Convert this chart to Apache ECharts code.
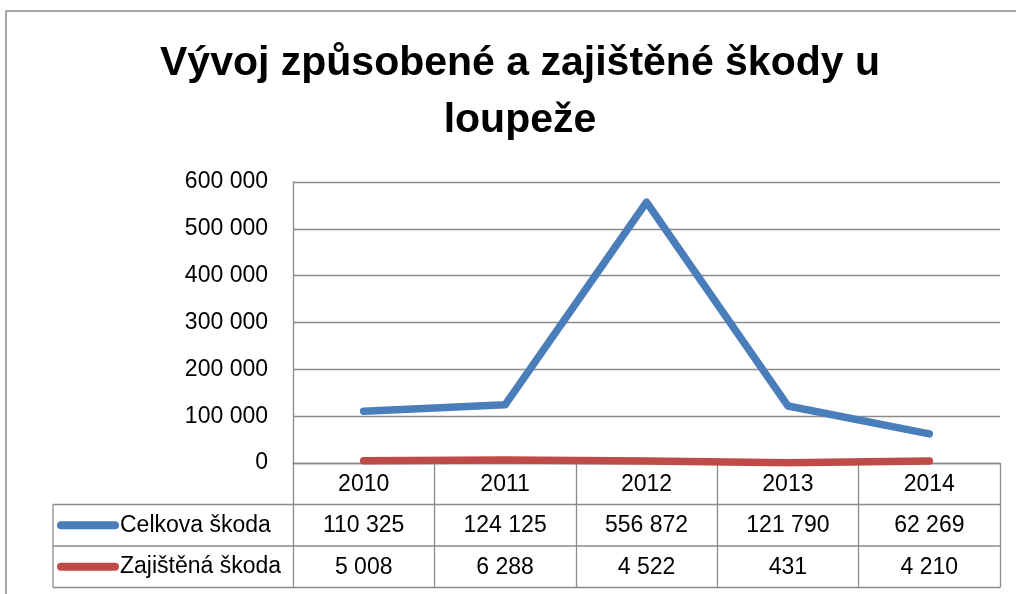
<!DOCTYPE html>
<html>
<head>
<meta charset="utf-8">
<script src="https://cdn.jsdelivr.net/npm/echarts@6/dist/echarts.min.js"></script>
<style>html,body{margin:0;padding:0;background:#fff;}#c{width:1016px;height:594px;}</style>
</head>
<body>
<div id="c"></div>
<script>
const titleText = 'Vývoj způsobené a zajištěné škody u\nloupeže';
const years = ['2010', '2011', '2012', '2013', '2014'];
const seriesNames = ['Celkova škoda', 'Zajištěná škoda'];
const celkova = [110325, 124125, 556872, 121790, 62269];
const zajistena = [5008, 6288, 4522, 431, 4210];
const yMin = 0, yMax = 600000, yStep = 100000;

const FONT = 'Liberation Sans';
const GRID = '#8a8a8a';
const L = { left: 293, right: 1000, top: 182, axisY: 463, row: 41.5, tableLeft: 53, W: 1016, H: 594 };
const fmt = v => String(v).replace(/\B(?=(\d{3})+(?!\d))/g, ' ');

const r1 = L.axisY + L.row, r2 = L.axisY + 2 * L.row, r3 = L.axisY + 3 * L.row;
const hline = (y) => ({ type: 'line', shape: { x1: L.tableLeft, y1: y, x2: L.right, y2: y }, style: { stroke: GRID, lineWidth: 1.3 }, silent: true });

const chart = echarts.init(document.getElementById('c'), null, { renderer: 'canvas' });
const rowAxis = (data, off) => ({
  type: 'category', data: data, position: 'bottom', offset: off, gridIndex: 0,
  axisLine: { show: false }, axisTick: { show: false }, splitLine: { show: false },
  axisLabel: { interval: 0, margin: 10, fontSize: 23, color: '#000', fontFamily: FONT }
});
const legTextBox = 23 + 5;
chart.setOption({
  animation: false,
  backgroundColor: '#fff',
  title: {
    text: titleText, left: 520, top: 35, textAlign: 'center', padding: 0,
    textStyle: { fontFamily: FONT, fontWeight: 'bold', fontSize: 41, lineHeight: 57, color: '#000' }
  },
  grid: { left: L.left, right: L.W - L.right, top: L.top, bottom: L.H - L.axisY, containLabel: false },
  legend: {
    orient: 'vertical', left: 57, top: r1 + L.row / 2 - legTextBox / 2, padding: 0,
    itemWidth: 62, itemHeight: 8, itemGap: L.row - legTextBox,
    icon: 'path://M4,0H58A4,4,0,0,1,58,8H4A4,4,0,0,1,4,0Z',
    textStyle: { fontFamily: FONT, fontSize: 23, lineHeight: 23, color: '#000', padding: [5, 0, 0, -4] },
    data: seriesNames, selectedMode: false
  },
  xAxis: [
    {
      type: 'category', data: years, boundaryGap: true, position: 'bottom',
      axisLine: { show: true, lineStyle: { color: GRID, width: 1.3 } },
      axisTick: { show: true, length: 3 * L.row, lineStyle: { color: GRID, width: 1.3 } },
      axisLabel: { interval: 0, margin: 10, fontSize: 23, color: '#000', fontFamily: FONT }
    },
    rowAxis(celkova.map(fmt), L.row),
    rowAxis(zajistena.map(fmt), 2 * L.row)
  ],
  yAxis: {
    type: 'value', min: yMin, max: yMax, interval: yStep,
    axisLine: { show: true, lineStyle: { color: GRID, width: 1.3 } },
    axisTick: { show: false },
    splitLine: { show: true, lineStyle: { color: GRID, width: 1.3 } },
    axisLabel: { margin: 25, fontSize: 23, color: '#000', fontFamily: FONT, formatter: v => fmt(v) }
  },
  series: [
    { name: seriesNames[0], type: 'line', data: celkova, symbol: 'none', color: '#4A7EBB',
      lineStyle: { width: 7.5, cap: 'round', join: 'round', color: '#4A7EBB' } },
    { name: seriesNames[1], type: 'line', data: zajistena, symbol: 'none', color: '#BE4B48',
      lineStyle: { width: 7.5, cap: 'round', join: 'round', color: '#BE4B48' } }
  ],
  graphic: [
    { type: 'rect', shape: { x: 6, y: 11, width: 1030, height: 620 }, style: { fill: 'none', stroke: GRID, lineWidth: 1.5 }, silent: true },
    hline(r1), hline(r2), hline(r3),
    { type: 'line', shape: { x1: L.tableLeft, y1: r1, x2: L.tableLeft, y2: r3 }, style: { stroke: GRID, lineWidth: 1.3 }, silent: true }
  ]
});
</script>
</body>
</html>
